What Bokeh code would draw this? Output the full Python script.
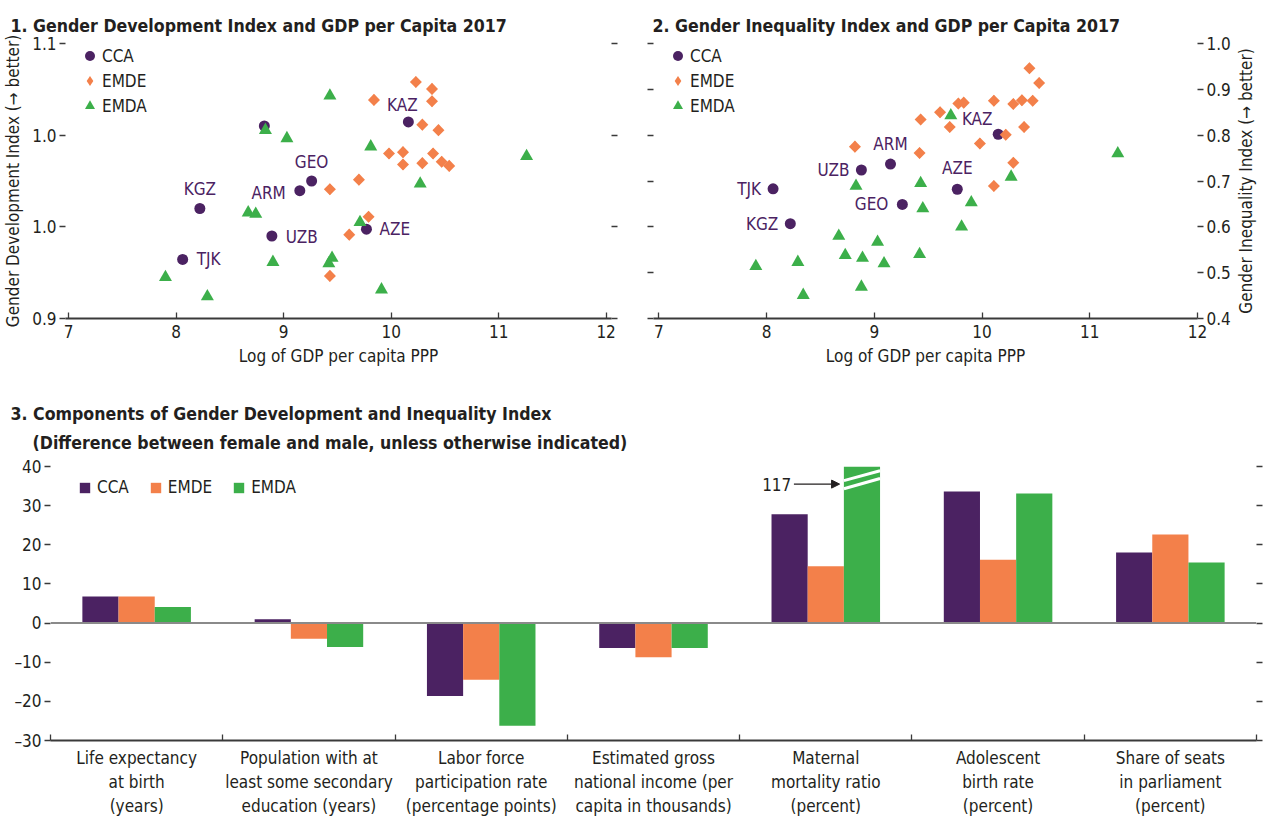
import numpy as np
from bokeh.plotting import figure
from bokeh.layouts import column, row
from bokeh.models import (ColumnDataSource, Legend, LegendItem, FixedTicker, LinearAxis,
                          Range1d, Arrow, NormalHead, Label, Title, PrintfTickFormatter, Span)
from bokeh.transform import dodge
from bokeh.core.properties import value
from bokeh.embed import file_html
from bokeh.resources import INLINE

FONT = "DejaVu Sans Condensed, DejaVu Sans, sans-serif"
PURPLE = "#4B2262"
ORANGE = "#F3804A"
GREEN = "#3CAF4A"
INK = "#231F20"
AXIS = "#3A3A3A"
FS = "17px"
TFS = "17.6px"

# ---------------- Panel 1: GDI vs log GDP per capita ----------------
gdi_cca_x = [10.16, 9.26, 9.15, 8.22, 8.89, 8.06, 9.77, 8.82]
gdi_cca_y = [1.043, 1.000, 0.993, 0.980, 0.960, 0.943, 0.965, 1.040]
gdi_cca_lab = ["KAZ", "GEO", "ARM", "KGZ", "UZB", "TJK", "AZE", ""]
gdi_emde_x = [10.23, 10.38, 10.38, 9.84, 10.29, 10.44, 9.98, 10.11, 10.39,
              10.11, 10.29, 10.47, 10.54, 9.70, 9.43, 9.79, 9.61, 9.43]
gdi_emde_y = [1.072, 1.067, 1.058, 1.059, 1.041, 1.037, 1.020, 1.021, 1.020,
              1.012, 1.013, 1.014, 1.011, 1.001, 0.994, 0.974, 0.961, 0.931]
gdi_emda_x = [8.83, 9.03, 9.43, 8.67, 8.74, 8.90, 7.90, 8.29, 9.45, 9.42,
              9.81, 10.27, 9.71, 9.91, 11.26]
gdi_emda_y = [1.037, 1.031, 1.062, 0.977, 0.976, 0.941, 0.930, 0.916, 0.944, 0.940,
              1.025, 0.998, 0.970, 0.921, 1.018]

# ---------------- Panel 2: GII vs log GDP per capita ----------------
gii_cca_x = [10.15, 9.77, 9.26, 9.15, 8.88, 8.06, 8.22]
gii_cca_y = [0.802, 0.682, 0.649, 0.737, 0.724, 0.683, 0.607]
gii_cca_lab = ["KAZ", "AZE", "GEO", "ARM", "UZB", "TJK", "KGZ"]
gii_emde_x = [8.82, 9.43, 9.42, 10.44, 10.53, 9.61, 9.78, 9.83, 10.11,
              10.29, 10.37, 10.47, 9.70, 10.22, 10.39, 9.98, 10.29, 10.11]
gii_emde_y = [0.775, 0.834, 0.761, 0.946, 0.914, 0.850, 0.869, 0.871, 0.875,
              0.868, 0.876, 0.875, 0.818, 0.801, 0.818, 0.782, 0.740, 0.689]
gii_emda_x = [7.90, 8.29, 8.34, 8.67, 8.73, 8.89, 8.83, 9.03, 9.09, 8.88,
              9.43, 9.45, 9.42, 9.71, 9.90, 9.81, 10.27, 11.26]
gii_emda_y = [0.514, 0.523, 0.451, 0.580, 0.538, 0.532, 0.689, 0.567, 0.520, 0.469,
              0.695, 0.640, 0.540, 0.843, 0.653, 0.600, 0.709, 0.760]

# ---------------- Panel 3: components ----------------
components = [
    "Life expectancy\nat birth\n(years)",
    "Population with at\nleast some secondary\neducation (years)",
    "Labor force\nparticipation rate\n(percentage points)",
    "Estimated gross\nnational income (per\ncapita in thousands)",
    "Maternal\nmortality ratio\n(percent)",
    "Adolescent\nbirth rate\n(percent)",
    "Share of seats\nin parliament\n(percent)",
]
comp_cca = [6.8, 1.0, -18.6, -6.4, 27.8, 33.6, 18.0]
comp_emde = [6.8, -4.0, -14.5, -8.7, 14.5, 16.2, 22.6]
comp_emda = [4.1, -6.1, -26.2, -6.4, 117.0, 33.1, 15.5]
bar_y_ticks = [-30, -20, -10, 0, 10, 20, 30, 40]

# label placement (style): dx, dy in pixels, alignment
LBL1 = {"KAZ": (-6, -17, "center"), "GEO": (0, -19, "center"), "ARM": (-14, 2, "right"),
        "KGZ": (0, -20, "center"), "UZB": (14, 1, "left"), "TJK": (14, 0, "left"),
        "AZE": (13, 0, "left"), "": (0, 0, "left")}
LBL2 = {"TJK": (-12, 0, "right"), "KGZ": (-12, 0, "right"), "UZB": (-12, 0, "right"),
        "ARM": (0, -20, "center"), "GEO": (-14, 0, "right"), "AZE": (0, -21, "center"),
        "KAZ": (-21, -15, "center")}


def style_common(p):
    p.grid.visible = False
    p.outline_line_color = None
    p.background_fill_color = "white"
    p.border_fill_color = "white"


def style_axis(ax):
    ax.axis_line_color = None
    ax.major_tick_line_color = AXIS
    ax.major_tick_line_width = 1.3
    ax.minor_tick_line_color = None
    ax.major_tick_in = 0
    ax.major_tick_out = 6
    ax.major_label_text_font = FONT
    ax.major_label_text_font_size = FS
    ax.major_label_text_color = INK
    ax.axis_label_text_font = FONT
    ax.axis_label_text_font_size = FS
    ax.axis_label_text_font_style = "normal"
    ax.axis_label_text_color = INK
    ax.major_label_standoff = 3


def style_bottom(ax):
    ax.axis_line_color = AXIS
    ax.axis_line_width = 2
    ax.major_tick_line_color = AXIS
    ax.major_tick_line_width = 1.3
    ax.major_tick_in = 6
    ax.major_tick_out = 0
    ax.minor_tick_line_color = None
    ax.major_label_text_font = FONT
    ax.major_label_text_font_size = FS
    ax.major_label_text_color = INK
    ax.axis_label_text_font = FONT
    ax.axis_label_text_font_size = FS
    ax.axis_label_text_font_style = "normal"
    ax.axis_label_text_color = INK
    ax.major_label_standoff = 6


def style_title(t, offset, standoff, bold=True, size=TFS):
    t.align = "left"
    t.offset = offset
    t.standoff = standoff
    t.text_font = FONT
    t.text_font_size = size
    t.text_font_style = "bold" if bold else "normal"
    t.text_color = INK


def add_markers(p, cx, cy, ex, ey, ax_, ay):
    rc = p.scatter(cx, cy, marker="circle", size=11, fill_color=PURPLE, line_color=None)
    # diamond glyph (used as legend key) lies fully beneath the rotated squares
    re_key = p.scatter(ex, ey, marker="diamond", size=11.5, fill_color=ORANGE, line_color=None)
    p.scatter(ex, ey, marker="square", angle=np.pi / 4, size=8.5,
              fill_color=ORANGE, line_color=None)
    ra = p.scatter(ax_, ay, marker="triangle", size=13, fill_color=GREEN, line_color=None)
    leg = Legend(items=[LegendItem(label="CCA", renderers=[rc]),
                        LegendItem(label="EMDE", renderers=[re_key]),
                        LegendItem(label="EMDA", renderers=[ra])],
                 location=(12, 200), orientation="vertical",
                 glyph_width=25, glyph_height=25, label_height=25, label_standoff=0,
                 spacing=0, padding=0, margin=0, border_line_color=None,
                 background_fill_alpha=0, label_text_font=FONT,
                 label_text_font_size=FS, label_text_color=INK)
    p.add_layout(leg)


def add_labels(p, xs, ys, labs, place):
    src = ColumnDataSource(dict(
        x=xs, y=ys, t=labs,
        dx=[place[l][0] for l in labs], dy=[place[l][1] for l in labs],
        al=[place[l][2] for l in labs]))
    p.text(x="x", y="y", text="t", x_offset="dx", y_offset="dy", text_align="al",
           text_baseline="middle", text_font=value(FONT), text_font_size=FS,
           text_color=PURPLE, source=src)


def blank_axis(ticks):
    ax = LinearAxis(ticker=FixedTicker(ticks=ticks))
    style_axis(ax)
    ax.major_label_overrides = {t: "" for t in ticks}
    ax.major_label_standoff = 0
    return ax


x_ticks = [7, 8, 9, 10, 11, 12]
gdi_ticks = [0.9, 0.9 + 0.2 / 3, 0.9 + 0.4 / 3, 1.1]
gii_ticks = [0.4, 0.5, 0.6, 0.7, 0.8, 0.9, 1.0]

# ---------- Figure 1 ----------
p1 = figure(width=630, height=385, x_range=Range1d(6.97, 12.05), y_range=Range1d(0.9, 1.1),
            output_backend="svg", toolbar_location=None,
            min_border_left=65, min_border_right=19, min_border_top=43, min_border_bottom=67)
style_common(p1)
p1.title.text = "1. Gender Development Index and GDP per Capita 2017"
style_title(p1.title, -55, 12)
p1.title.vertical_align = "top"
style_bottom(p1.xaxis[0])
p1.xaxis[0].ticker = FixedTicker(ticks=x_ticks)
p1.xaxis[0].axis_label = "Log of GDP per capita PPP"
style_axis(p1.yaxis[0])
p1.yaxis[0].ticker = FixedTicker(ticks=gdi_ticks)
p1.yaxis[0].formatter = PrintfTickFormatter(format="%.1f")
p1.yaxis[0].axis_label = "Gender Development Index (\u2192 better)"
p1.yaxis[0].axis_label_standoff = 6
p1.add_layout(blank_axis(gdi_ticks), "right")
add_markers(p1, gdi_cca_x, gdi_cca_y, gdi_emde_x, gdi_emde_y, gdi_emda_x, gdi_emda_y)
add_labels(p1, gdi_cca_x, gdi_cca_y, gdi_cca_lab, LBL1)

# ---------- Figure 2 ----------
p2 = figure(width=603, height=385, x_range=Range1d(6.95, 12.0), y_range=Range1d(0.4, 1.0),
            output_backend="svg", toolbar_location=None, y_axis_location="right",
            min_border_left=23, min_border_right=36, min_border_top=43, min_border_bottom=67)
style_common(p2)
p2.title.text = "2. Gender Inequality Index and GDP per Capita 2017"
style_title(p2.title, -1, 12)
p2.title.vertical_align = "top"
style_bottom(p2.xaxis[0])
p2.xaxis[0].ticker = FixedTicker(ticks=x_ticks)
p2.xaxis[0].axis_label = "Log of GDP per capita PPP"
style_axis(p2.yaxis[0])
p2.yaxis[0].ticker = FixedTicker(ticks=gii_ticks)
p2.yaxis[0].formatter = PrintfTickFormatter(format="%.1f")
p2.add_layout(blank_axis(gii_ticks), "left")
add_markers(p2, gii_cca_x, gii_cca_y, gii_emde_x, gii_emde_y, gii_emda_x, gii_emda_y)
add_labels(p2, gii_cca_x, gii_cca_y, gii_cca_lab, LBL2)

# narrow strip carrying panel 2's right-hand axis title (reads bottom to top)
p2t = figure(width=30, height=385, output_backend="svg", toolbar_location=None,
             x_axis_location=None, y_axis_location=None,
             min_border_left=0, min_border_right=0, min_border_top=43, min_border_bottom=67)
style_common(p2t)
p2t_title = Title(text="Gender Inequality Index (\u2192 better)")
style_title(p2t_title, 0, 0, bold=False, size=FS)
p2t_title.align = "center"
p2t.add_layout(p2t_title, "left")

# ---------- Figure 3 ----------
n = len(components)
y_top = 40
p3 = figure(width=1263, height=433, x_range=Range1d(0, n), y_range=Range1d(-30, y_top),
            output_backend="svg", toolbar_location=None,
            min_border_left=50, min_border_right=7, min_border_top=81, min_border_bottom=77)
style_common(p3)
p3.title.text = ("3. Components of Gender Development and Inequality Index\n"
                 "\u00a0\u00a0\u00a0\u00a0(Difference between female and male, "
                 "unless otherwise indicated)")
style_title(p3.title, -40, 28)
p3.title.text_line_height = 1.45

xc = list(np.arange(n) + 0.5)
src = ColumnDataSource(dict(x=xc, cca=comp_cca, emde=comp_emde, emda=comp_emda))
bw = 0.21
r1 = p3.vbar(x=dodge("x", -bw), top="cca", bottom=0, width=bw, source=src,
             fill_color=PURPLE, line_color=None)
r2 = p3.vbar(x=dodge("x", 0), top="emde", bottom=0, width=bw, source=src,
             fill_color=ORANGE, line_color=None)
r3 = p3.vbar(x=dodge("x", bw), top="emda", bottom=0, width=bw, source=src,
             fill_color=GREEN, line_color=None)
p3.add_layout(Span(location=0, dimension="width", line_color="#8A8A8A", line_width=2))

# break marks and annotation for the off-scale bar
for i, v in enumerate(comp_emda):
    if v > y_top:
        left = xc[i] + bw - bw / 2
        right = xc[i] + bw + bw / 2
        p3.segment(x0=[left, left], y0=[y_top - 3.6, y_top - 5.7],
                   x1=[right, right], y1=[y_top - 1.1, y_top - 3.05],
                   line_color="white", line_width=3)
        ay = y_top - 4.5
        p3.add_layout(Arrow(end=NormalHead(size=8, fill_color=INK, line_color=INK),
                            x_start=left - 0.29, y_start=ay, x_end=left - 0.025, y_end=ay,
                            line_color=INK, line_width=1.3))
        p3.add_layout(Label(x=left - 0.305, y=ay, text=f"{v:g}", text_align="right",
                            text_baseline="middle", text_font=FONT, text_font_size=FS,
                            text_color=INK))

xa = p3.xaxis[0]
style_bottom(xa)
xa.ticker = FixedTicker(ticks=xc, minor_ticks=list(range(0, n + 1)))
xa.major_label_overrides = {float(x): lab for x, lab in zip(xc, components)}
xa.major_tick_in = 0
xa.major_tick_out = 0
xa.minor_tick_line_color = AXIS
xa.minor_tick_line_width = 1.3
xa.minor_tick_in = 6
xa.minor_tick_out = 0
xa.major_label_standoff = 7

ya = p3.yaxis[0]
style_axis(ya)
ya.ticker = FixedTicker(ticks=bar_y_ticks)
ya.major_label_overrides = {t: (f"\u2013{abs(t)}" if t < 0 else str(t)) for t in bar_y_ticks}
p3.add_layout(blank_axis(bar_y_ticks), "right")

leg3 = Legend(items=[LegendItem(label="CCA", renderers=[r1]),
                     LegendItem(label="EMDE", renderers=[r2]),
                     LegendItem(label="EMDA", renderers=[r3])],
              location=(28, 243), orientation="horizontal",
              glyph_width=13, glyph_height=13, label_height=20, label_standoff=6,
              spacing=20, padding=0, margin=0, border_line_color=None,
              background_fill_alpha=0, label_text_font=FONT,
              label_text_font_size=FS, label_text_color=INK)
p3.add_layout(leg3)

layout = column(row(p1, p2, p2t), p3)
open("out.html", "w").write(file_html(layout, INLINE))
